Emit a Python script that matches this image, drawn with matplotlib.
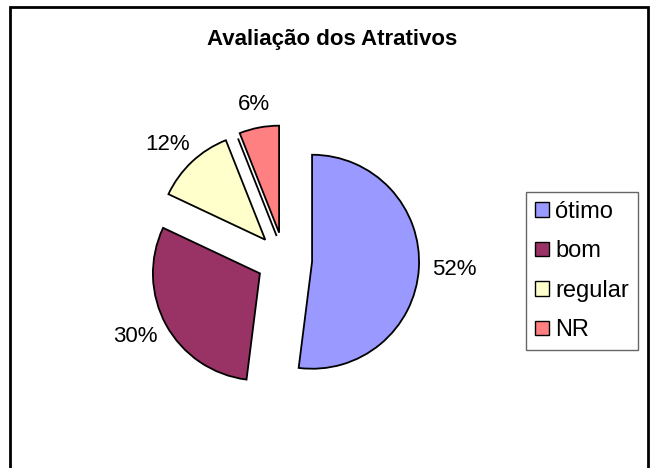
import matplotlib
matplotlib.use("Agg")
import numpy as np
import matplotlib.pyplot as plt
from matplotlib.patches import Rectangle, Patch
from matplotlib.lines import Line2D

categories = ["ótimo", "bom", "regular", "NR"]
values = [52, 30, 12, 6]
colors = ["#9999FF", "#993366", "#FFFFCC", "#FF8080"]
title = "Avaliação dos Atrativos"

W, H = 652, 468
dpi = 100
plt.rcParams['font.family'] = ['Liberation Sans', 'DejaVu Sans']
fig = plt.figure(figsize=(W / dpi, H / dpi), dpi=dpi)

# outer frame
fig.patches.append(Rectangle((10 / W, -0.05), 638 / W, (H - 7) / H + 0.05,
                             transform=fig.transFigure, fill=False,
                             edgecolor='black', linewidth=2.0))

fig.text(332 / W, 1 - 40 / H, title, ha='center', va='center',
         fontsize=16, fontweight='bold')

# pie axes: centre at (284, 260) px, radius 107 px
cx, cy, r = 284.3, 260, 107
half = 170
ax = fig.add_axes([(cx - half) / W, (H - cy - half) / H, 2 * half / W, 2 * half / H])

explode = 0.26
ldist = 1.12
wedges, texts = ax.pie(values, colors=colors, startangle=90, counterclock=False,
                       explode=[explode] * len(values),
                       labels=[f"{v}%" for v in values], labeldistance=ldist,
                       wedgeprops=dict(edgecolor='black', linewidth=1.3),
                       textprops=dict(fontsize=16), radius=1.0)
ax.set_xlim(-half / r, half / r)
ax.set_ylim(-half / r, half / r)
ax.set_aspect('equal')
ax.axis('off')

# place labels Excel-like: box just outside the slice along its bisector
fig.canvas.draw()
renderer = fig.canvas.get_renderer()
for w, t in zip(wedges, texts):
    ang = np.deg2rad((w.theta1 + w.theta2) / 2)
    dx, dy = np.cos(ang), np.sin(ang)
    wx, wy = w.center
    bb = t.get_window_extent(renderer)
    tw, th = bb.width / r, bb.height / r
    t.set_position((wx + ldist * dx + dx * tw / 2, wy + ldist * dy + dy * th / 2))
    t.set_ha('center')
    t.set_va('center')

# thin double edge line beside the NR slice (as in the reference)
nr = wedges[-1]
edge_ang = np.deg2rad(nr.theta2)
ex, ey = np.cos(edge_ang), np.sin(edge_ang)
px, py = -ey, ex  # perpendicular, toward the neighbouring slice
off = 3.5 / r
wx, wy = nr.center
ax.add_line(Line2D([wx + off * px - 0.02 * ex, wx + off * px + 0.96 * ex],
                   [wy + off * py - 0.02 * ey, wy + off * py + 0.96 * ey],
                   color='black', linewidth=1.3, solid_capstyle='butt'))

handles = [Patch(facecolor=c, edgecolor='black', linewidth=1.0) for c in colors]
leg = fig.legend(handles, categories, loc='upper left',
                 bbox_to_anchor=(526 / W, 1 - 192 / H), fontsize=17,
                 frameon=True, fancybox=False, shadow=False,
                 handlelength=0.58, handleheight=0.58, handletextpad=0.28,
                 labelspacing=0.74, borderpad=0.38, borderaxespad=0)
leg.get_frame().set_edgecolor('#404040')
leg.get_frame().set_linewidth(1.0)

fig.savefig("out.png", dpi=dpi)
